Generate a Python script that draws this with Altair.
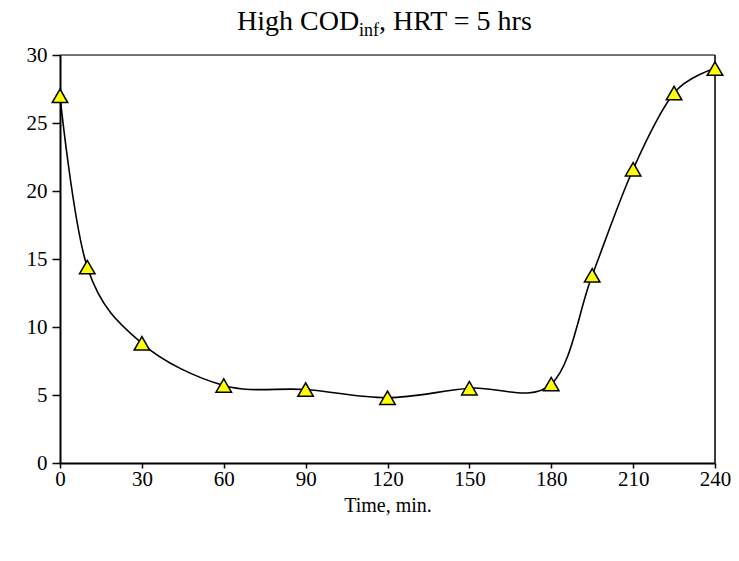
import altair as alt
import pandas as pd

time_min = [0, 10, 30, 60, 90, 120, 150, 180, 195, 210, 225, 240]
values = [27.0, 14.4, 8.8, 5.7, 5.4, 4.8, 5.5, 5.8, 13.8, 21.6, 27.2, 29.0]
x_ticks = [0, 30, 60, 90, 120, 150, 180, 210, 240]
y_ticks = [0, 5, 10, 15, 20, 25, 30]
x_domain = [0, 240]
y_domain = [0, 30]
title_main = "High COD"
title_sub = "inf"
title_rest = ", HRT = 5 hrs"
x_title = "Time, min."

df = pd.DataFrame({"t": time_min, "v": values})

FONT = "Liberation Serif"

x_enc = alt.X("t:Q", scale=alt.Scale(domain=x_domain, nice=False, zero=False),
              axis=alt.Axis(values=x_ticks, title=x_title, grid=False,
                            domainColor="black", domainWidth=2,
                            tickColor="black", tickSize=5, tickWidth=1.5,
                            labelFont=FONT, labelFontSize=21, labelColor="black",
                            labelPadding=0, labelFlush=False,
                            titleFont=FONT, titleFontSize=20,
                            titleFontWeight="normal", titleColor="black",
                            titlePadding=6))
y_enc = alt.Y("v:Q", scale=alt.Scale(domain=y_domain, nice=False),
              axis=alt.Axis(values=y_ticks, title=None, grid=False,
                            domainColor="black", domainWidth=2,
                            tickColor="black", tickSize=8, tickWidth=1.5,
                            labelFont=FONT, labelFontSize=21, labelColor="black",
                            labelPadding=5, labelFlush=False))

line = alt.Chart(df).mark_line(interpolate="cardinal", color="black",
                               strokeWidth=1.6).encode(x=x_enc, y=y_enc)
pts = alt.Chart(df).mark_point(shape="triangle-up", filled=True, fill="#FFFF00",
                               stroke="black", strokeWidth=1.5, size=240,
                               opacity=1).encode(x="t:Q", y="v:Q")

tdf = pd.DataFrame({"a": [0]})
right_edge = alt.Chart(tdf).mark_rule(color="black", strokeWidth=1.5).encode(
    x=alt.datum(x_domain[1]), y=alt.datum(y_domain[0]), y2=alt.datum(y_domain[1]))
top_edge = alt.Chart(tdf).mark_rule(color="black", strokeWidth=1.2).encode(
    y=alt.datum(y_domain[1]), x=alt.datum(x_domain[0]), x2=alt.datum(x_domain[1]))

t1 = alt.Chart(tdf).mark_text(text=title_main, font=FONT, fontSize=28, align="left",
                              baseline="alphabetic", color="black").encode(
    x=alt.value(177), y=alt.value(-25))
t2 = alt.Chart(tdf).mark_text(text=title_sub, font=FONT, fontSize=18, align="left",
                              baseline="alphabetic", color="black").encode(
    x=alt.value(299), y=alt.value(-19))
t3 = alt.Chart(tdf).mark_text(text=title_rest, font=FONT, fontSize=28, align="left",
                              baseline="alphabetic", color="black").encode(
    x=alt.value(319), y=alt.value(-25))

chart = alt.layer(line, right_edge, top_edge, pts, t1, t2, t3).properties(
    width=655, height=408,
    autosize=alt.AutoSizeParams(type="none"),
    padding={"left": 52, "top": 47, "right": 16, "bottom": 90},
).configure_view(strokeWidth=0).configure(background="white")

chart.save("out.html", embed_options={"renderer": "svg", "actions": False})
